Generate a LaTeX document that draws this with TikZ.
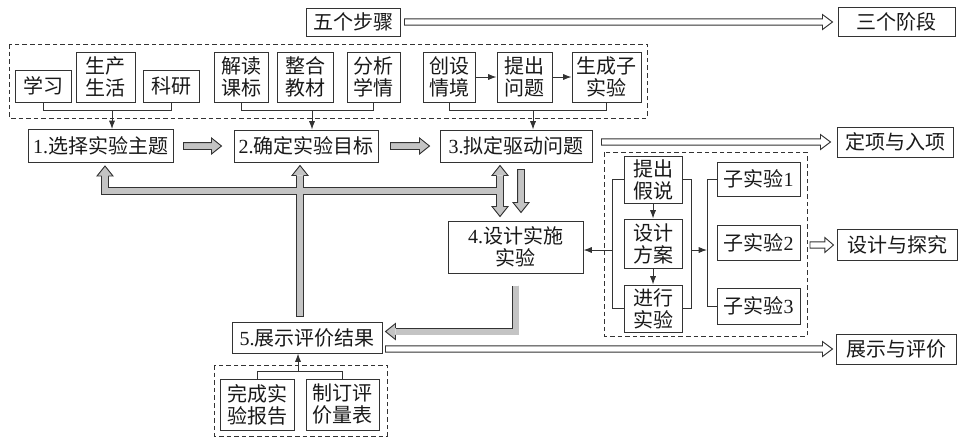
\documentclass[tikz,border=0pt]{standalone}
\usepackage{fontspec}
\setmainfont{Liberation Serif}
\newfontfamily\cjk{Noto Sans CJK SC}
\usetikzlibrary{arrows.meta,calc}
\definecolor{lc}{HTML}{333333}
\definecolor{gf}{HTML}{C4C4C4}
\newcommand\lat[1]{{\rmfamily #1}}
% straight fat arrow: #1 start, #2 tip, #3 half shaft, #4 half head, #5 head length, #6 style
\newcommand\fatarrow[6]{%
  \coordinate (fas) at (#1); \coordinate (fae) at (#2);
  \coordinate (fab) at ($(fae)!#5!(fas)$);
  \path[#6] ($(fas)!#3!90:(fae)$) -- ($(fab)!#3!-90:(fas)$) -- ($(fab)!#4!-90:(fas)$) -- (fae)
     -- ($(fab)!#4!90:(fas)$) -- ($(fab)!#3!90:(fas)$) -- ($(fas)!#3!-90:(fae)$) -- cycle;
}
% head of a composite gray arrow: #1 tip, #2 point towards the shaft
\newcommand\fathead[2]{%
  \coordinate (fhb) at ($(#1)!7.5pt!(#2)$);
  \path[fatg] ($(fhb)!2.6pt!90:(#1)$) -- ($(fhb)!6pt!90:(#1)$) -- (#1)
     -- ($(fhb)!6pt!-90:(#1)$) -- ($(fhb)!2.6pt!-90:(#1)$);
}
\tikzset{
  bx/.style 2 args={draw=lc, line width=0.75pt, inner sep=0pt, align=center,
    minimum width={#1*0.75pt}, minimum height={#2*0.75pt},
    font=\cjk\fontsize{15}{16.5}\selectfont, text=black!90},
  arr/.style={draw=lc, line width=0.75pt, -{Latex[length=6.2pt,width=4.6pt]}},
  ln/.style={draw=lc, line width=0.75pt},
  dbox/.style={draw=lc, line width=0.75pt, dash pattern=on 3.5pt off 2.2pt},
  fatw/.style={draw=lc, line width=0.7pt, fill=white, line join=miter},
  fatg/.style={draw=lc, line width=0.7pt, fill=gf, line join=miter},
  shb/.style={draw=lc, line width=5.9pt, line join=miter},
  shg/.style={draw=gf, line width=4.5pt, line join=miter},
}
\begin{document}
\begin{tikzpicture}[x=0.75pt,y=-0.75pt]
\fill[white] (0,0) rectangle (962,440);
\useasboundingbox (0,0) rectangle (962,440);

% dashed groups
\draw[dbox] (9,44) rectangle (647,118);
\draw[dbox] (604,152) rectangle (807,336);
\coordinate (Bse) at (807,336);
\draw[dbox] (214,365) rectangle (387,436);

% top row
\node[bx={94}{28}] (fs) at (353,22) {五个步骤};
\node[bx={117}{29}] (sg) at (896.5,22) {三个阶段};

% group A
\node[bx={56}{32}] (xx) at (43,86) {学习};
\node[bx={59}{50}] (sc) at (105.5,77) {生产\\生活};
\node[bx={56}{32}] (ky) at (171,86) {科研};
\node[bx={54}{50}] (jd) at (241,77) {解读\\课标};
\node[bx={56}{50}] (zh) at (305,77) {整合\\教材};
\node[bx={53}{50}] (fx) at (373.5,77) {分析\\学情};
\node[bx={52}{50}] (cs) at (449,77) {创设\\情境};
\node[bx={55}{50}] (tc) at (524.5,77) {提出\\问题};
\node[bx={69}{50}] (sz) at (606.5,77) {生成子\\实验};

% main steps
\node[bx={145}{33}] (n1) at (100.5,146) {\lat{1.}选择实验主题};
\node[bx={144}{32}] (n2) at (306,146) {\lat{2.}确定实验目标};
\node[bx={152}{32}] (n3) at (516,146) {\lat{3.}拟定驱动问题};
\node[bx={116}{30}] (dx) at (895,142) {定项与入项};
\node[bx={135}{52}] (n4) at (515.5,247) {\lat{4.}设计实施\\实验};
\node[bx={150}{31}] (n5) at (307,337.5) {\lat{5.}展示评价结果};
\node[bx={120}{30}] (zp) at (896,349) {展示与评价};

% group B
\node[bx={58}{47}] (tj) at (653,179.5) {提出\\假说};
\node[bx={58}{49}] (sj) at (653,243.5) {设计\\方案};
\node[bx={58}{47}] (jx) at (653,308.5) {进行\\实验};
\node[bx={83}{34}] (s1) at (758.5,179) {子实验\lat{1}};
\node[bx={83}{35}] (s2) at (758.5,242.5) {子实验\lat{2}};
\node[bx={83}{36}] (s3) at (758.5,306) {子实验\lat{3}};
\node[bx={120}{31}] (sy) at (897,245) {设计与探究};

% group C
\node[bx={74}{51}] (wb) at (257,404.5) {完成实\\验报告};
\node[bx={73}{51}] (zd) at (342.5,404.5) {制订评\\价量表};

% thin connectors, group A
\draw[ln] (xx.south) -- ++(0,8) -| (ky.south);
\coordinate (brA) at (112,110);
\draw[arr] (brA) -- (brA |- n1.north);
\draw[ln] (jd.south) -- ++(0,8) -| (fx.south);
\coordinate (brB) at (312,110);
\draw[arr] (brB) -- (brB |- n2.north);
\draw[arr] (cs.east) -- (tc.west);
\draw[arr] (tc.east) -- (sz.west);
\draw[ln] (cs.south) -- ++(0,8) -| (sz.south);
\coordinate (brC) at (533,110);
\draw[arr] (brC) -- (brC |- n3.north);

% thin connectors, group B
\draw[arr] (tj.south) -- (sj.north);
\draw[arr] (sj.south) -- (jx.north);
\coordinate (lb) at (612,250);
\coordinate (rb) at (691,250);
\coordinate (sv) at (707,250);
\draw[ln] (tj.west) -| (lb) |- (jx.west);
\draw[ln] (tj.east) -| (rb) |- (jx.east);
\draw[arr] (lb) -- (lb -| n4.east);
\draw[arr] (rb) -- (sv);
\draw[ln] (s1.west) -| (sv) |- (s3.west);

% thin connectors, group C
\draw[ln] (wb.north) -- ++(0,-7) -| (zd.north);
\coordinate (brE) at (298,372);
\draw[arr] (brE) -- (brE |- n5.south);

% white fat arrows
\fatarrow{$(fs.east)+(4,0)$}{$(sg.west)+(-5,0)$}{2.4pt}{5.6pt}{7.5pt}{fatw}
\fatarrow{$(n3.east |- dx.west)+(9,0)$}{$(dx.west)+(-6,0)$}{2.4pt}{5.6pt}{7.5pt}{fatw}
\fatarrow{$(Bse |- sy.west)+(3,0)$}{$(sy.west)+(-3,0)$}{2.4pt}{5.6pt}{6.5pt}{fatw}
\fatarrow{$(n5.east |- zp.west)+(3,0)$}{$(zp.west)+(-3,0)$}{2.4pt}{5.6pt}{7.5pt}{fatw}

% gray fat arrows (straight)
\fatarrow{$(n1.east)+(10,0)$}{$(n2.west)+(-12,0)$}{2.6pt}{6pt}{7.5pt}{fatg}
\fatarrow{$(n2.east)+(12,0)$}{$(n3.west)+(-10,0)$}{2.6pt}{6pt}{7.5pt}{fatg}
\fatarrow{$(n3.south)+(5,7)$}{$(n4.north)+(5.5,-8)$}{2.6pt}{6pt}{7.5pt}{fatg}

% gray composite: feedback network
\coordinate (t1) at ($(n1.south)+(4.5,3)$);
\coordinate (t2) at ($(n2.south)+(-6,3)$);
\coordinate (t3) at ($(n3.south)+(-16,3)$);
\coordinate (t4) at ($(n4.north)+(-15.5,-4)$);
\coordinate (jL) at ($(t1)+(0,25)$);
\coordinate (jR) at (t3 |- jL);
\coordinate (s5) at ($(t2 |- n5.north)+(0,-5)$);
\coordinate (b1) at ($(t1)!7.5pt!(jL)$);
\coordinate (b2) at ($(t2)!7.5pt!(s5)$);
\coordinate (b3) at ($(t3)!7.5pt!(t4)$);
\coordinate (b4) at ($(t4)!7.5pt!(t3)$);
% box 4 -> box 5
\coordinate (s4) at ($(n4.south)+(0,12)$);
\coordinate (k2) at ($(s4)+(0,46)$);
\coordinate (t5) at ($(n5.east |- k2)+(3,0)$);
\coordinate (b5) at ($(t5)!7.5pt!(k2)$);

\draw[shb] (b1) -- (jL) -- (jR);
\draw[shb] (s5) -- (b2);
\draw[shb] (b3) -- (b4);
\draw[shb] (s4) -- (k2) -- (b5);
\draw[shg] (b1) -- (jL) -- (jR);
\draw[shg, shorten <=0.7pt] (s5) -- (b2);
\draw[shg] (b3) -- (b4);
\draw[shg, shorten <=0.7pt] (s4) -- (k2) -- (b5);
\fathead{t1}{jL}
\fathead{t2}{s5}
\fathead{t3}{t4}
\fathead{t4}{t3}
\fathead{t5}{k2}
\end{tikzpicture}
\end{document}
